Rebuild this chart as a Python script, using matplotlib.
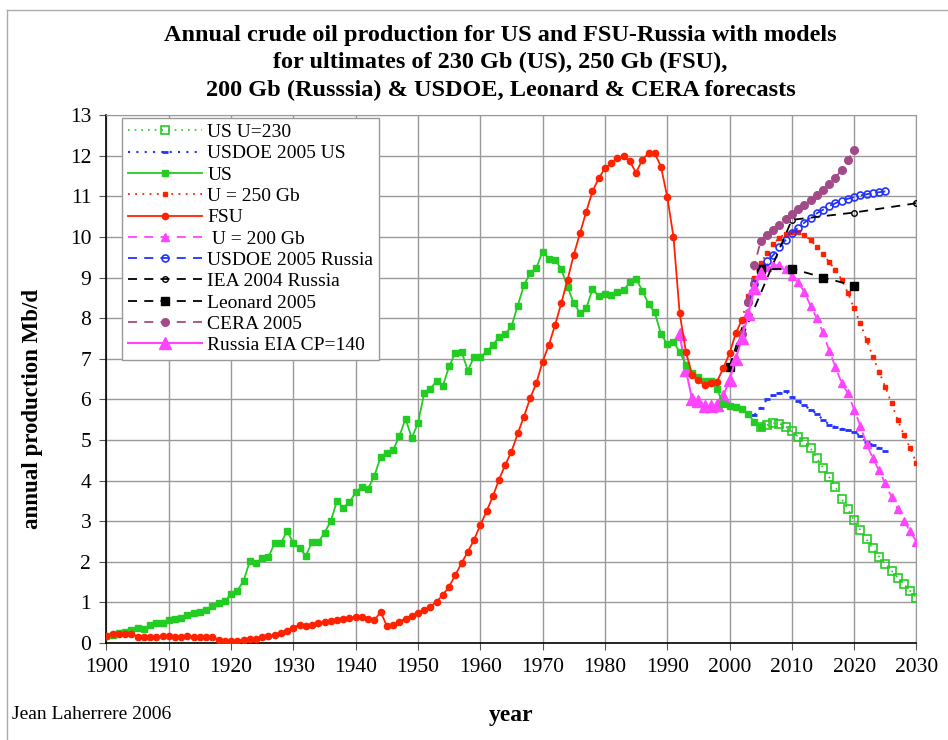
import numpy as np
import matplotlib
matplotlib.use('Agg')
import matplotlib.pyplot as plt
from matplotlib.lines import Line2D

# --- data (Mb/d) ---
us_years = np.arange(1900, 2006)
us_prod = [0.17, 0.19, 0.24, 0.27, 0.32, 0.37, 0.34, 0.45, 0.49, 0.50,
           0.57, 0.60, 0.61, 0.68, 0.73, 0.77, 0.82, 0.92, 0.98, 1.03,
           1.21, 1.29, 1.53, 2.01, 1.96, 2.09, 2.11, 2.47, 2.46, 2.76,
           2.46, 2.33, 2.15, 2.49, 2.48, 2.72, 3.00, 3.50, 3.33, 3.47,
           3.71, 3.84, 3.80, 4.12, 4.58, 4.69, 4.75, 5.09, 5.52, 5.05,
           5.41, 6.16, 6.26, 6.46, 6.34, 6.81, 7.15, 7.17, 6.71, 7.05,
           7.04, 7.18, 7.33, 7.54, 7.61, 7.80, 8.30, 8.81, 9.10, 9.24,
           9.64, 9.46, 9.44, 9.21, 8.77, 8.37, 8.13, 8.24, 8.71, 8.55,
           8.60, 8.57, 8.65, 8.69, 8.88, 8.97, 8.68, 8.35, 8.14, 7.61,
           7.36, 7.42, 7.17, 6.85, 6.66, 6.56, 6.46, 6.45, 6.25, 5.88,
           5.84, 5.80, 5.76, 5.64, 5.44, 5.31]

us_model_years = np.arange(2005, 2031)
us_model = [5.31, 5.37, 5.41, 5.40, 5.33, 5.22, 5.08, 4.95, 4.80, 4.55,
            4.32, 4.08, 3.85, 3.55, 3.30, 3.02, 2.78, 2.55, 2.33, 2.13,
            1.95, 1.78, 1.61, 1.45, 1.28, 1.12]

doe_us_years = np.arange(2004, 2026)
doe_us = [5.62, 5.78, 6.00, 6.10, 6.15, 6.20, 6.07, 5.95, 5.85, 5.75,
          5.65, 5.50, 5.38, 5.32, 5.28, 5.24, 5.20, 5.10, 4.95, 4.88,
          4.80, 4.72]

fsu_years = np.arange(1900, 2003)
fsu_prod = [0.18, 0.23, 0.23, 0.23, 0.23, 0.16, 0.16, 0.16, 0.16, 0.17,
            0.17, 0.16, 0.16, 0.17, 0.16, 0.16, 0.16, 0.16, 0.08, 0.06,
            0.05, 0.06, 0.07, 0.09, 0.11, 0.14, 0.17, 0.21, 0.25, 0.30,
            0.38, 0.45, 0.43, 0.45, 0.49, 0.52, 0.54, 0.57, 0.59, 0.62,
            0.64, 0.65, 0.60, 0.56, 0.77, 0.42, 0.45, 0.53, 0.60, 0.67,
            0.74, 0.82, 0.90, 1.02, 1.19, 1.39, 1.68, 1.97, 2.25, 2.54,
            2.91, 3.24, 3.61, 4.02, 4.39, 4.71, 5.16, 5.57, 6.03, 6.40,
            6.93, 7.34, 7.83, 8.37, 8.94, 9.56, 10.09, 10.62, 11.12, 11.44,
            11.69, 11.82, 11.94, 11.98, 11.86, 11.58, 11.90, 12.06, 12.06, 11.73,
            10.99, 10.01, 8.12, 7.17, 6.60, 6.48, 6.35, 6.40, 6.44, 6.77,
            7.13, 7.63, 7.96]

fsu_model_years = np.arange(2002, 2031)
fsu_model = [7.96, 8.55, 9.00, 9.35, 9.60, 9.82, 9.98, 10.08, 10.13, 10.12,
             10.05, 9.92, 9.76, 9.57, 9.38, 9.18, 8.95, 8.62, 8.24, 7.87,
             7.46, 7.05, 6.68, 6.31, 5.90, 5.49, 5.12, 4.80, 4.43]

rus_years = np.arange(1992, 2006)
rus_prod = [7.60, 6.72, 6.00, 5.96, 5.84, 5.84, 5.86, 6.08, 6.48, 7.00,
            7.50, 8.10, 8.75, 9.10]

rus_model_years = np.arange(2005, 2031)
rus_model = [9.10, 9.27, 9.31, 9.30, 9.20, 9.03, 8.88, 8.65, 8.30, 8.00,
             7.65, 7.20, 6.80, 6.40, 6.15, 5.75, 5.35, 4.90, 4.55, 4.25,
             3.93, 3.60, 3.30, 3.00, 2.75, 2.50]

doe_rus_years = np.arange(2003, 2026)
doe_rus = [8.40, 8.85, 9.20, 9.40, 9.55, 9.75, 9.92, 10.10, 10.22, 10.35,
           10.47, 10.58, 10.67, 10.76, 10.83, 10.89, 10.94, 10.98, 11.02, 11.05,
           11.08, 11.10, 11.12]

iea_years = [2000, 2010, 2020, 2030]
iea_rus = [6.80, 10.42, 10.60, 10.83]

leonard_years = [2000, 2005, 2010, 2015, 2020]
leonard = [6.80, 9.20, 9.22, 9.00, 8.80]

cera_years = np.arange(2002, 2021)
cera = [7.60, 8.40, 9.30, 9.90, 10.05, 10.17, 10.30, 10.45, 10.57, 10.68,
        10.78, 10.90, 11.02, 11.15, 11.30, 11.46, 11.65, 11.90, 12.14]

green = '#22cc22'
red = '#ff2200'
magenta = '#ff44ff'
blue = '#2233ff'
purple = '#a34a88'

plt.rcParams['font.family'] = ['Liberation Serif', 'DejaVu Serif']

fig = plt.figure(figsize=(9.48, 7.40), dpi=100)
ax = fig.add_axes([0.1123, 0.131, 0.8544, 0.7135])

dot = (0, (1, 3))
dash = (0, (5, 4))

ax.plot(us_model_years, us_model, color=green, ls=dot, lw=1.2, marker='s',
        ms=6, mfc='none', mec=green, mew=1.2, label='US U=230', zorder=3)
ax.plot(doe_us_years, doe_us, color=blue, ls=dot, lw=1.5, marker='_',
        ms=4, mec=blue, mew=2, label='USDOE 2005 US', zorder=3)
ax.plot(us_years, us_prod, color=green, ls='-', lw=1.3, marker='s',
        ms=4, mfc=green, mec=green, label='US', zorder=4)
ax.plot(fsu_model_years, fsu_model, color=red, ls=dot, lw=1.3, marker='s',
        ms=2.5, mfc=red, mec=red, label='U = 250 Gb', zorder=3)
ax.plot(fsu_years, fsu_prod, color=red, ls='-', lw=1.3, marker='o',
        ms=4.5, mfc=red, mec=red, label='FSU', zorder=4)
ax.plot(rus_model_years, rus_model, color=magenta, ls=dash, lw=1.3, marker='^',
        ms=6, mfc=magenta, mec=magenta, label=' U = 200 Gb', zorder=3)
ax.plot(doe_rus_years, doe_rus, color=blue, ls=dash, lw=1.3, marker='o',
        ms=5, mfc='none', mec=blue, mew=1.2, label='USDOE 2005 Russia', zorder=3)
ax.plot(iea_years, iea_rus, color='black', ls=dash, lw=1.3, marker='o',
        ms=4, mfc='none', mec='black', mew=1, label='IEA 2004 Russia', zorder=3)
ax.plot(leonard_years, leonard, color='black', ls=dash, lw=1.3, marker='s',
        ms=6, mfc='black', mec='black', label='Leonard 2005', zorder=3)
ax.plot(cera_years, cera, color=purple, ls=dash, lw=1.3, marker='o',
        ms=5.5, mfc=purple, mec=purple, label='CERA 2005', zorder=3)
ax.plot(rus_years, rus_prod, color=magenta, ls='-', lw=1.5, marker='^',
        ms=8, mfc=magenta, mec=magenta, label='Russia EIA CP=140', zorder=3)

ax.set_xlim(1900, 2030)
ax.set_ylim(0, 13)
ax.set_xticks(np.arange(1900, 2031, 10))
ax.set_yticks(np.arange(0, 14, 1))
ax.grid(True, color='#999999', lw=1.0)
ax.set_axisbelow(True)
ax.tick_params(labelsize=15.5, direction='out', length=5, color='#555555', pad=6)
for side in ['top', 'right']:
    ax.spines[side].set_color('#999999')
ax.spines['left'].set_linewidth(1.2)
ax.spines['bottom'].set_linewidth(1.2)

ax.set_xlabel('year', fontsize=17, fontweight='bold')
ax.xaxis.set_label_coords(0.5, -0.118)
ax.set_ylabel('annual production Mb/d', fontsize=16.5, fontweight='bold')
ax.yaxis.set_label_coords(-0.078, 0.443)

fig.text(0.528, 0.966, 'Annual crude oil production for US and FSU-Russia with models\n'
         'for ultimates of 230 Gb (US), 250 Gb (FSU),\n'
         '200 Gb (Russsia) & USDOE, Leonard & CERA forecasts',
         ha='center', va='top', fontsize=17.5, fontweight='bold', linespacing=1.38)

fig.text(0.013, 0.028, 'Jean Laherrere 2006', fontsize=14)

leg = ax.legend(loc='upper left', bbox_to_anchor=(0.019, 0.995), borderaxespad=0,
                fontsize=14, handlelength=3.8, handletextpad=0.3, labelspacing=0.19,
                frameon=True, fancybox=False, edgecolor='#999999', framealpha=1,
                borderpad=0.3, numpoints=1)
leg.get_frame().set_linewidth(1.0)

# thin frame around the picture
fig.add_artist(Line2D([0.007, 1.0], [0.986, 0.986], transform=fig.transFigure,
                      color='#aaaaaa', lw=1))
fig.add_artist(Line2D([0.007, 0.007], [0.0, 0.986], transform=fig.transFigure,
                      color='#aaaaaa', lw=1))

fig.savefig('out.png', dpi=100)
